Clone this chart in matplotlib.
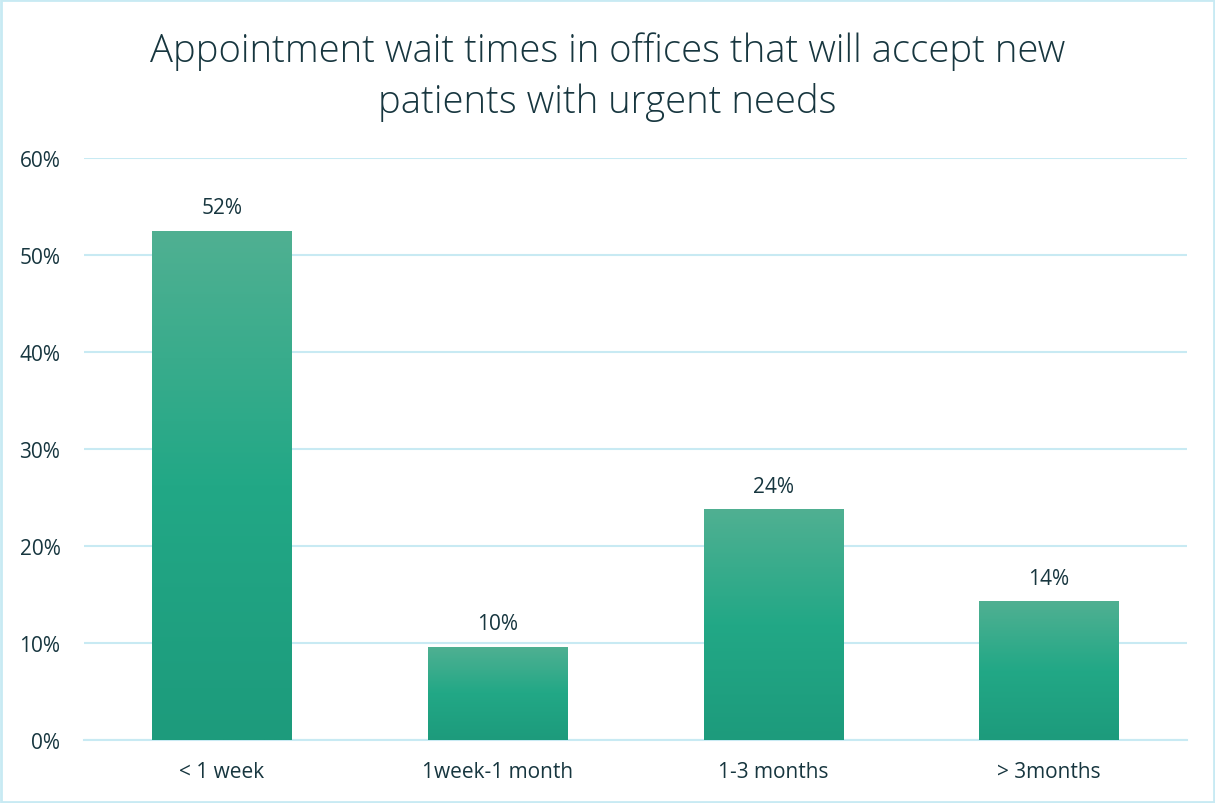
import matplotlib
matplotlib.use("Agg")
import matplotlib.pyplot as plt
import numpy as np
from matplotlib.colors import LinearSegmentedColormap
from matplotlib.patches import Rectangle

categories = ["< 1 week", "1week-1 month", "1-3 months", "> 3months"]
values = [52.5, 9.6, 23.8, 14.3]
labels = ["52%", "10%", "24%", "14%"]
yticks = [0, 10, 20, 30, 40, 50, 60]

plt.rcParams['font.family'] = ['Open Sans', 'DejaVu Sans']
text_color = "#17363F"
grid_color = "#C8EAF3"

fig = plt.figure(figsize=(12.15, 8.04), dpi=100)
ax = fig.add_axes([84/1215, 1 - 741/804, (1187-84)/1215, (741-159)/804])

cmap = LinearSegmentedColormap.from_list("g", ["#1D9B7C", "#22A886", "#50B092"])
grad = np.linspace(0, 1, 256).reshape(-1, 1)

x = np.arange(len(categories))
width = 0.505
bars = ax.bar(x, values, width=width, color="none", zorder=3)
for b in bars:
    x0, y0 = b.get_x(), b.get_y()
    w, h = b.get_width(), b.get_height()
    im = ax.imshow(grad, cmap=cmap, aspect="auto", origin="lower",
                   extent=[x0, x0 + w, y0, y0 + h], zorder=3)
    clip = Rectangle((x0, y0), w, h, transform=ax.transData)
    im.set_clip_path(clip)

for xi, v, lab in zip(x, values, labels):
    ax.text(xi, v + 1.3, lab, ha="center", va="bottom", fontsize=15, color=text_color)

ax.set_xlim(-0.5, len(categories) - 0.5)
ax.set_ylim(0, 60)
ax.set_yticks(yticks)
ax.set_yticklabels([f"{t}%" for t in yticks])
ax.set_xticks(x)
ax.set_xticklabels(categories)
ax.tick_params(axis="both", length=0, labelsize=15, labelcolor=text_color)
ax.tick_params(axis="y", pad=17)
ax.tick_params(axis="x", pad=15)
ax.grid(axis="y", color=grid_color, linewidth=1.5, zorder=0)
ax.set_axisbelow(True)
for s in ["top", "right", "left"]:
    ax.spines[s].set_visible(False)
ax.spines["bottom"].set_color(grid_color)
ax.spines["bottom"].set_linewidth(1.5)

fig.text(0.5, 1 - 77/804, "Appointment wait times in offices that will accept new\npatients with urgent needs",
         ha="center", va="center", fontsize=27.5, fontweight="light", color=text_color, linespacing=1.4)

border = Rectangle((0.001, 0.001), 0.998, 0.998, transform=fig.transFigure,
                   fill=False, edgecolor="#C8EAF3", linewidth=2)
fig.patches.append(border)

fig.savefig("out.png", dpi=100)
